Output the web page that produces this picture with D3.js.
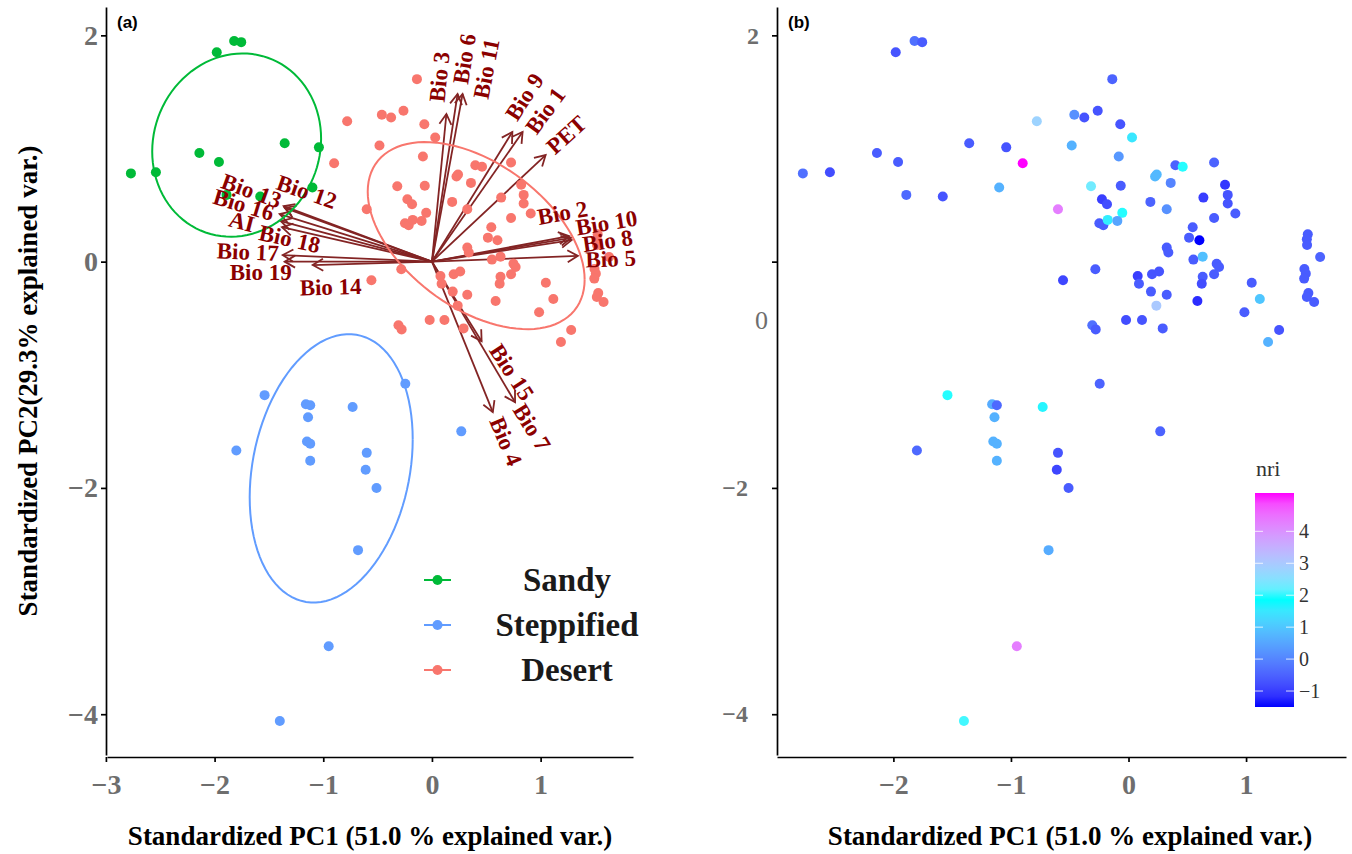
<!DOCTYPE html>
<html>
<head>
<meta charset="utf-8">
<script src="https://cdn.jsdelivr.net/npm/d3@7"></script>
<style>
  body { margin: 0; background: #fff; }
  svg { display: block; }
</style>
</head>
<body>
<svg id="chart" width="1352" height="854"></svg>
<script>
var groups = ['Sandy', 'Steppified', 'Desert'];

// [PC1, PC2, nri]
var sandy = [
  [-2.77, 0.78, -0.3], [-2.54, 0.79, -0.8], [-2.14, 0.96, -0.6], [-1.96, 0.88, -0.6],
  [-1.89, 0.59, -0.4], [-1.58, 0.575, -0.7], [-1.355, 1.047, -0.6], [-1.04, 1.01, -0.7],
  [-1.10, 0.655, 0.7], [-1.98, 1.85, -0.7], [-1.82, 1.95, -0.3], [-1.755, 1.94, -0.6]
];

var steppified = [
  [-1.54, -1.18, 1.9], [-1.16, -1.26, 0.6], [-1.12, -1.27, -0.4], [-1.14, -1.375, 0.7],
  [-0.73, -1.285, 1.7], [-1.15, -1.59, 0.7], [-1.12, -1.61, 0.7], [-1.12, -1.76, 0.7],
  [-1.80, -1.67, -0.4], [-0.60, -1.69, -0.7], [-0.61, -1.84, -0.9], [-0.51, -2.0, -0.6],
  [-0.245, -1.08, -0.5], [0.27, -1.50, -0.5], [-0.68, -2.55, 0.6], [-0.95, -3.40, 4.3],
  [-1.40, -4.06, 2.0]
];

var desert = [
  [-0.138, 1.613, -0.5], [-0.461, 1.298, 0.2], [-0.376, 1.274, -0.7], [-0.262, 1.333, -0.7],
  [-0.07, 1.215, -0.7], [0.03, 1.097, 1.5], [-0.483, 1.027, 0.7], [-0.083, 0.929, 0.3],
  [-0.78, 1.24, 2.8], [-0.319, 0.666, 2.3], [-0.066, 0.67, -0.6], [-0.226, 0.551, -1.0],
  [-0.183, 0.507, -0.8], [-0.6, 0.463, 4.3], [-0.9, 0.87, 5.2], [-0.248, 0.339, -0.6],
  [-0.214, 0.321, -0.6], [-0.177, 0.369, 1.6], [-0.053, 0.431, 1.9], [-0.095, 0.36, 0.5],
  [0.186, 0.528, -0.5], [0.325, 0.463, 0.2], [0.226, 0.752, 0.8], [0.24, 0.77, 0.8],
  [0.359, 0.696, 0.0], [0.399, 0.852, -0.5], [0.461, 0.838, 1.9], [0.728, 0.876, -0.5],
  [0.821, 0.679, -1.1], [0.844, 0.59, -0.7], [0.844, 0.513, -0.7], [0.637, 0.566, -1.0],
  [0.728, 0.386, -0.6], [0.909, 0.425, -0.6], [0.546, 0.304, -0.6], [0.515, 0.212, -0.6],
  [0.603, 0.189, -1.5], [0.325, 0.124, -0.6], [0.339, 0.08, -0.6], [0.552, 0.018, -0.6],
  [0.631, 0.044, 0.9], [0.75, -0.018, -0.6], [0.77, -0.047, -0.6], [0.728, -0.112, -0.6],
  [0.631, -0.133, -0.6], [0.623, -0.195, -0.8], [0.586, -0.348, -1.2], [-0.282, -0.068, -0.6],
  [-0.557, -0.165, -0.9], [0.078, -0.127, -1.0], [0.2, -0.112, -0.7], [0.26, -0.088, -0.7],
  [0.089, -0.195, -0.6], [0.191, -0.265, -0.6], [0.325, -0.292, -0.6], [0.237, -0.389, 3.0],
  [-0.021, -0.516, -0.8], [0.115, -0.516, -0.7], [0.291, -0.59, -0.6], [-0.308, -0.563, -0.3],
  [-0.279, -0.599, -0.6], [1.048, -0.186, -0.6], [1.117, -0.33, 1.0], [0.986, -0.448, -0.6],
  [1.281, -0.604, -0.7], [1.187, -0.711, 0.7], [1.525, 0.242, -0.6], [1.517, 0.198, -0.6],
  [1.519, 0.147, -0.6], [1.63, 0.041, -0.5], [1.496, -0.065, -0.6], [1.508, -0.106, -0.6],
  [1.494, -0.15, -0.6], [1.53, -0.277, -0.6], [1.517, -0.312, -0.6], [1.579, -0.357, -0.6]
];

// ellipse: centre x, centre y, half width, half height, cos of phase
var ellipses = [
  [-1.797, 1.03, 0.777, 0.81, 0.07],
  [-0.927, -1.827, 0.75, 1.186, 0.216],
  [0.407, 0.23, 0.998, 0.827, -0.47]
];

var variables = ['Bio 3', 'Bio 6', 'Bio 11', 'Bio 9', 'Bio 1', 'PET', 'Bio 2', 'Bio 10', 'Bio 8',
  'Bio 5', 'Bio 15', 'Bio 7', 'Bio 4', 'Bio 13', 'Bio 16', 'AI', 'Bio 12', 'Bio 18', 'Bio 17',
  'Bio 19', 'Bio 14'];

var loadings = [
  [0.133, 1.305], [0.236, 1.482], [0.282, 1.482], [0.74, 1.146], [0.834, 1.146], [1.046, 0.942],
  [1.262, 0.225], [1.28, 0.21], [1.285, 0.19], [1.343, 0.051], [0.457, -0.704], [0.765, -1.243],
  [0.56, -1.33], [-1.364, 0.491], [-1.401, 0.42], [-1.39, 0.358], [-1.355, 0.475], [-1.38, 0.305],
  [-1.373, 0.058], [-1.355, 0.0], [-1.097, -0.03]
];

var labelAt = [
  [0.071, 1.633], [0.301, 1.792], [0.503, 1.704], [0.853, 1.456], [1.046, 1.332], [1.239, 1.119],
  [1.202, 0.429], [1.607, 0.341], [1.616, 0.181], [1.644, 0.022], [0.733, -0.978], [0.917, -1.465],
  [0.678, -1.589], [-1.661, 0.624], [-1.733, 0.5], [-1.751, 0.35], [-1.153, 0.615], [-1.309, 0.199],
  [-1.695, 0.084], [-1.576, -0.093], [-0.932, -0.226]
];

var xTicks = [-3, -2, -1, 0, 1];
var yTicks = [2, 0, -2, -4];
var nriTicks = [-1, 0, 1, 2, 3, 4];

(function () {
  var svg = d3.select('#chart');
  var serif = '"Liberation Serif", "Times New Roman", serif';
  var groupColors = ['#00BA38', '#619CFF', '#F8766D'];
  var fmt = d3.format('');

  var points = [];
  [sandy, steppified, desert].forEach(function (rows, gi) {
    rows.forEach(function (r) {
      points.push({ pc1: r[0], pc2: r[1], nri: r[2], group: gi });
    });
  });

  function padded(ext) {
    var pad = (ext[1] - ext[0]) * 0.05;
    return [ext[0] - pad, ext[1] + pad];
  }
  var xDomain = padded(d3.extent(points, function (d) { return d.pc1; }));
  var yDomain = padded(d3.extent(points, function (d) { return d.pc2; }));

  var xA = d3.scaleLinear().domain(xDomain).range([107, 633]);
  var xB = d3.scaleLinear().domain(xDomain).range([777, 1346]);
  var y = d3.scaleLinear().domain(yDomain).range([755, 7]);

  var nriExtent = d3.extent(points, function (d) { return d.nri; });
  var nriColor = d3.scaleLinear()
    .domain([nriExtent[0], (nriExtent[0] + nriExtent[1]) / 2, nriExtent[1]])
    .range(['#0000FF', '#00FFFF', '#FF00FF'])
    .interpolate(d3.interpolateLab);

  function styleAxis(g, size) {
    g.attr('font-family', serif);
    g.select('.domain').attr('stroke', '#000').attr('stroke-width', 1.7);
    g.selectAll('.tick line').attr('stroke', '#000').attr('stroke-width', 1.7);
    g.selectAll('.tick text')
      .attr('fill', '#6e6e6e')
      .attr('font-size', size)
      .attr('font-weight', 'bold');
  }

  // ---------- panel (a) ----------
  var a = svg.append('g');

  a.append('g')
    .attr('transform', 'translate(0,' + 757 + ')')
    .call(d3.axisBottom(xA).tickValues(xTicks).tickFormat(fmt).tickSize(5).tickSizeOuter(0))
    .call(styleAxis, 28)
    .selectAll('.tick text').attr('y', 17);

  a.append('g')
    .attr('transform', 'translate(' + 106 + ',0)')
    .call(d3.axisLeft(y).tickValues(yTicks).tickFormat(fmt).tickSize(5).tickSizeOuter(0))
    .call(styleAxis, 28)
    .selectAll('.tick text').attr('x', -8);

  var ox = xA(0), oy = y(0);

  // arrows
  var arrows = a.append('g')
    .attr('stroke', '#832424')
    .attr('stroke-width', 1.8)
    .attr('fill', 'none');

  loadings.forEach(function (l) {
    var tx = xA(l[0]), ty = y(l[1]);
    var ang = Math.atan2(ty - oy, tx - ox);
    var len = 12;
    arrows.append('line')
      .attr('x1', ox).attr('y1', oy)
      .attr('x2', tx).attr('y2', ty);
    arrows.append('path')
      .attr('d', 'M' + (tx - len * Math.cos(ang - Math.PI / 6)) + ',' + (ty - len * Math.sin(ang - Math.PI / 6)) +
        'L' + tx + ',' + ty +
        'L' + (tx - len * Math.cos(ang + Math.PI / 6)) + ',' + (ty - len * Math.sin(ang + Math.PI / 6)));
  });

  // points
  a.append('g')
    .selectAll('circle')
    .data(points)
    .enter().append('circle')
    .attr('cx', function (d) { return xA(d.pc1); })
    .attr('cy', function (d) { return y(d.pc2); })
    .attr('r', 5)
    .attr('fill', function (d) { return groupColors[d.group]; });

  // ellipses
  var ellipseLine = d3.line()
    .x(function (d) { return xA(d[0]); })
    .y(function (d) { return y(d[1]); });

  a.append('g')
    .selectAll('path')
    .data(ellipses)
    .enter().append('path')
    .attr('d', function (e) {
      var phi = Math.acos(e[4]);
      var pts = d3.range(0, 101).map(function (i) {
        var t = i / 100 * 2 * Math.PI;
        return [e[0] + e[2] * Math.cos(t), e[1] + e[3] * Math.cos(t - phi)];
      });
      return ellipseLine(pts);
    })
    .attr('fill', 'none')
    .attr('stroke-width', 2)
    .attr('stroke', function (e, i) { return groupColors[i]; });

  // variable labels
  a.append('g')
    .selectAll('text')
    .data(variables)
    .enter().append('text')
    .attr('transform', function (d, i) {
      var l = loadings[i];
      var deg = Math.atan(l[1] / l[0]) * 180 / Math.PI;
      return 'translate(' + xA(labelAt[i][0]) + ',' + y(labelAt[i][1]) + ') rotate(' + (-deg) + ')';
    })
    .attr('text-anchor', 'middle')
    .attr('dominant-baseline', 'central')
    .attr('font-family', serif)
    .attr('font-weight', 'bold')
    .attr('font-size', 23)
    .attr('fill', '#8B0000')
    .text(function (d) { return d; });

  // legend
  var legendY = [580, 625, 670];
  var legend = a.append('g');
  groups.forEach(function (g, i) {
    legend.append('line')
      .attr('x1', 424).attr('x2', 451)
      .attr('y1', legendY[i]).attr('y2', legendY[i])
      .attr('stroke', groupColors[i]).attr('stroke-width', 2);
    legend.append('circle')
      .attr('cx', 437.5).attr('cy', legendY[i]).attr('r', 5)
      .attr('fill', groupColors[i]);
    legend.append('text')
      .attr('x', 567).attr('y', legendY[i])
      .attr('text-anchor', 'middle')
      .attr('dominant-baseline', 'central')
      .attr('font-family', serif)
      .attr('font-weight', 'bold')
      .attr('font-size', 33)
      .attr('fill', '#1a1a1a')
      .text(g);
  });

  a.append('text')
    .attr('x', 117).attr('y', 28)
    .attr('font-family', '"Liberation Sans", Arial, sans-serif')
    .attr('font-weight', 'bold')
    .attr('font-size', 17)
    .text('(a)');

  a.append('text')
    .attr('x', (107 + 633) / 2).attr('y', 845)
    .attr('text-anchor', 'middle')
    .attr('font-family', serif)
    .attr('font-weight', 'bold')
    .attr('font-size', 27)
    .text('Standardized PC1 (51.0 % explained var.)');

  a.append('text')
    .attr('transform', 'translate(28,' + 381 + ') rotate(-90)')
    .attr('text-anchor', 'middle')
    .attr('dominant-baseline', 'central')
    .attr('font-family', serif)
    .attr('font-weight', 'bold')
    .attr('font-size', 27)
    .text('Standardized PC2(29.3% explained var.)');

  // ---------- panel (b) ----------
  var b = svg.append('g');

  b.append('g')
    .attr('transform', 'translate(0,' + 757 + ')')
    .call(d3.axisBottom(xB).tickValues(xTicks.slice(1)).tickFormat(fmt).tickSize(5).tickSizeOuter(0))
    .call(styleAxis, 28)
    .selectAll('.tick text').attr('y', 17);

  var yb = b.append('g')
    .attr('transform', 'translate(' + 777 + ',0)')
    .call(d3.axisLeft(y).tickValues(yTicks).tickFormat(fmt).tickSize(5).tickSizeOuter(0))
    .call(styleAxis, 24);
  yb.selectAll('.tick text')
    .attr('x', function (d) { return d === 2 ? -18 : d === 0 ? -9 : -29; });
  yb.selectAll('.tick text')
    .filter(function (d) { return d === 0; })
    .attr('y', 59)
    .attr('font-weight', 'normal')
    .attr('font-size', 26);

  b.append('g')
    .selectAll('circle')
    .data(points)
    .enter().append('circle')
    .attr('cx', function (d) { return xB(d.pc1); })
    .attr('cy', function (d) { return y(d.pc2); })
    .attr('r', 5)
    .attr('fill', function (d) { return nriColor(d.nri); });

  // colour bar
  var barY = d3.scaleLinear().domain(nriExtent).range([707, 493]);
  var grad = svg.append('defs').append('linearGradient')
    .attr('id', 'nriGrad')
    .attr('x1', 0).attr('y1', 1).attr('x2', 0).attr('y2', 0);
  d3.range(0, 21).forEach(function (i) {
    var v = nriExtent[0] + (nriExtent[1] - nriExtent[0]) * i / 20;
    grad.append('stop').attr('offset', (i * 5) + '%').attr('stop-color', nriColor(v));
  });

  b.append('rect')
    .attr('x', 1255).attr('y', 493)
    .attr('width', 39).attr('height', 214)
    .attr('fill', 'url(#nriGrad)');

  var ticksG = b.append('g');
  nriTicks.forEach(function (t) {
    ticksG.append('line')
      .attr('x1', 1255).attr('x2', 1263)
      .attr('y1', barY(t)).attr('y2', barY(t))
      .attr('stroke', '#fff').attr('stroke-opacity', 0.8);
    ticksG.append('line')
      .attr('x1', 1286).attr('x2', 1294)
      .attr('y1', barY(t)).attr('y2', barY(t))
      .attr('stroke', '#fff').attr('stroke-opacity', 0.8);
    ticksG.append('text')
      .attr('x', 1299).attr('y', barY(t))
      .attr('dominant-baseline', 'central')
      .attr('font-family', serif)
      .attr('font-size', 20)
      .attr('fill', '#333')
      .text(fmt(t));
  });

  b.append('text')
    .attr('x', 1256).attr('y', 476)
    .attr('font-family', serif)
    .attr('font-size', 22)
    .attr('fill', '#333')
    .text('nri');

  b.append('text')
    .attr('x', 788).attr('y', 28)
    .attr('font-family', '"Liberation Sans", Arial, sans-serif')
    .attr('font-weight', 'bold')
    .attr('font-size', 17)
    .text('(b)');

  b.append('text')
    .attr('x', 1070).attr('y', 845)
    .attr('text-anchor', 'middle')
    .attr('font-family', serif)
    .attr('font-weight', 'bold')
    .attr('font-size', 27)
    .text('Standardized PC1 (51.0 % explained var.)');
})();
</script>
</body>
</html>
